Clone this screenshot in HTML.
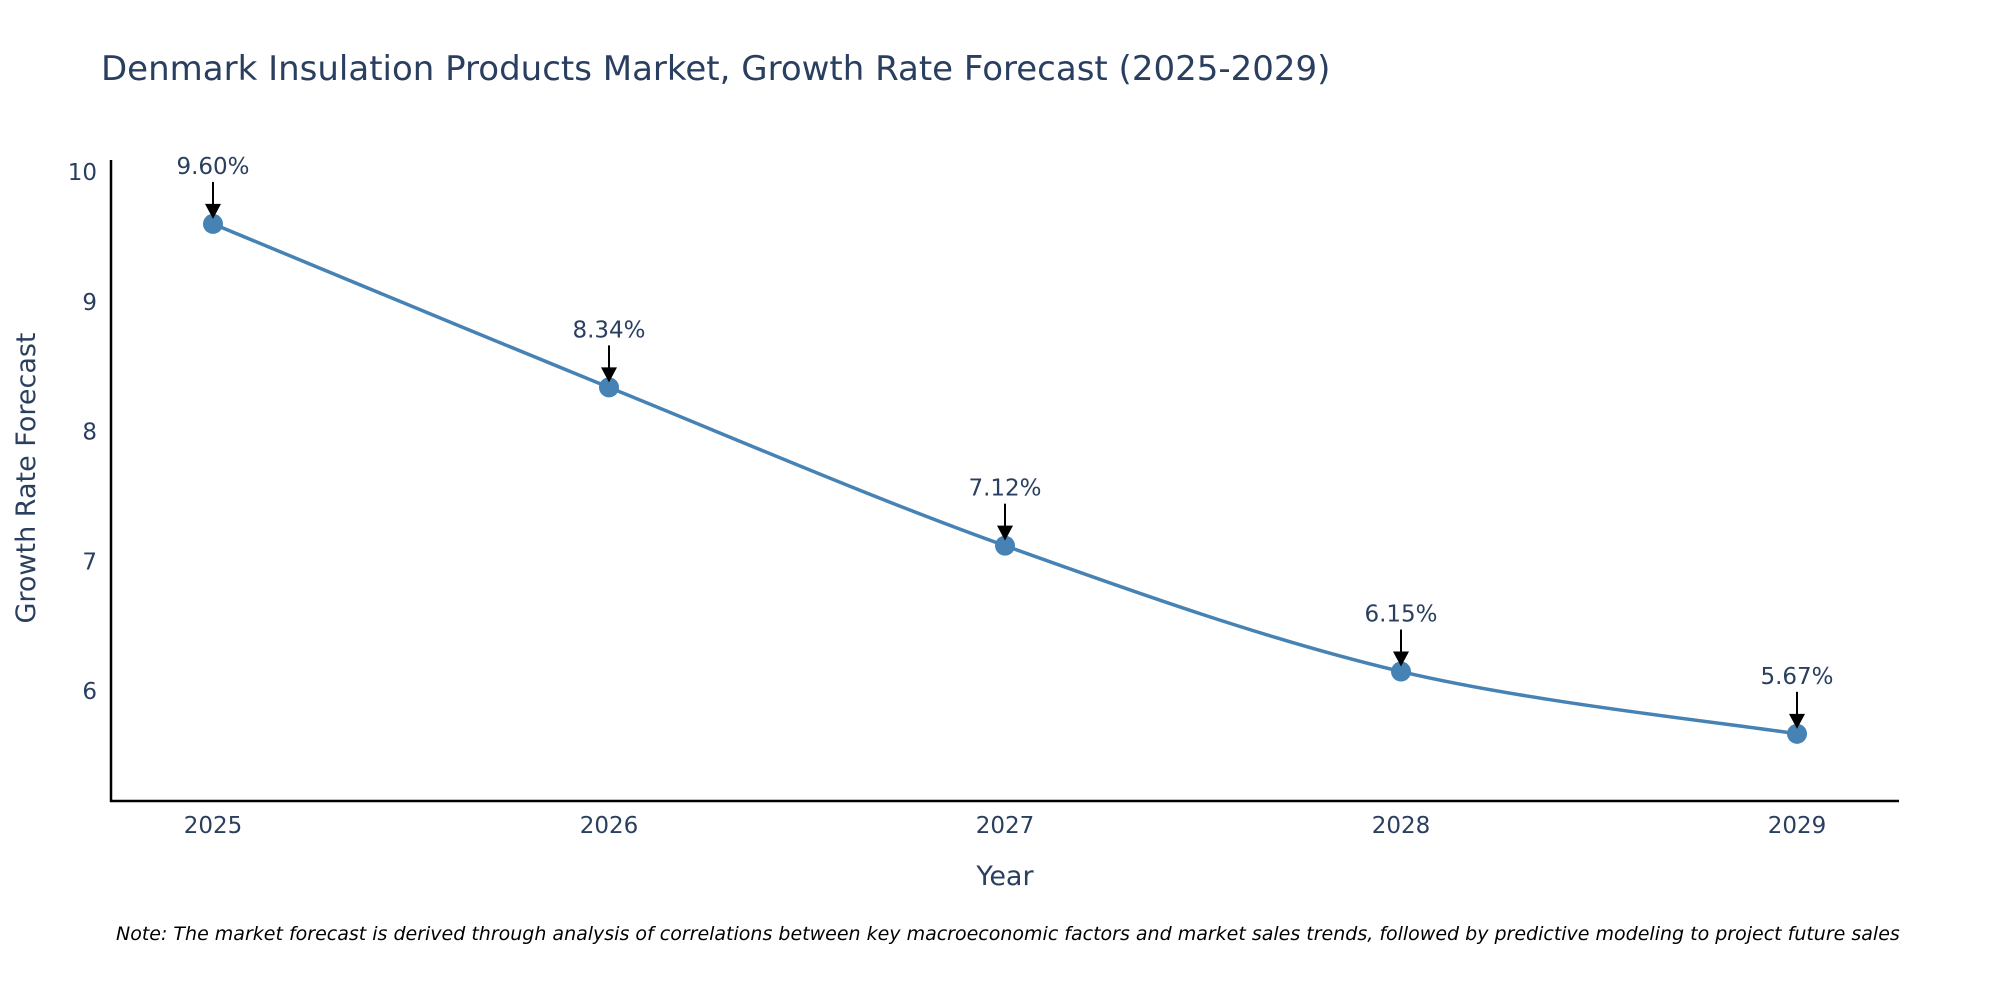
<!DOCTYPE html>
<html><head><meta charset="utf-8"><style>
body{margin:0;background:#fff;width:2000px;height:1000px;overflow:hidden;font-family:"DejaVu Sans",sans-serif}
</style></head><body>
<svg width="2000" height="1000" xmlns="http://www.w3.org/2000/svg" style="font-family:'DejaVu Sans','Liberation Sans',sans-serif">
<text x="101" y="80" font-size="34" fill="#2a3f5f">Denmark Insulation Products Market, Growth Rate Forecast (2025-2029)</text>
<g id="yticks"></g><g id="xticks"></g>
<line x1="111" y1="160" x2="111" y2="802" stroke="#000" stroke-width="2.5"/>
<line x1="110" y1="801" x2="1899" y2="801" stroke="#000" stroke-width="2.5"/>
<path id="line" fill="none" stroke="#4682b4" stroke-width="3.5"/>
<g id="marks"></g>
<text transform="translate(35,478) rotate(-90)" text-anchor="middle" font-size="27" fill="#2a3f5f">Growth Rate Forecast</text>
<text x="1005" y="885" text-anchor="middle" font-size="27" fill="#2a3f5f">Year</text>
<text x="116" y="940" font-size="19" font-style="italic" fill="#000">Note: The market forecast is derived through analysis of correlations between key macroeconomic factors and market sales trends, followed by predictive modeling to project future sales</text>
</svg>
<script>
const years=[2025,2026,2027,2028,2029];
const rates=[9.60,8.34,7.12,6.15,5.67];
const labels=['9.60%','8.34%','7.12%','6.15%','5.67%'];
const yTicks=[6,7,8,9,10];
const NS='http://www.w3.org/2000/svg';
const x=v=>213+(v-2025)*396;
const y=v=>691-(v-6)*129.75;
function mk(t,a,p){const e=document.createElementNS(NS,t);for(const k in a)e.setAttribute(k,a[k]);p.appendChild(e);return e;}
const yt=document.getElementById('yticks');
yTicks.forEach(v=>{const t=mk('text',{x:97,y:y(v)+8,'text-anchor':'end','font-size':23,fill:'#2a3f5f'},yt);


t.textContent=v;});
const xt=document.getElementById('xticks');
years.forEach(v=>{const t=mk('text',{x:x(v),y:833,'text-anchor':'middle','font-size':23,fill:'#2a3f5f'},xt);


t.textContent=v;});
const P=years.map((v,i)=>[x(v),y(rates[i])]);
let d='M'+P[0][0]+','+P[0][1];
for(let i=0;i<P.length-1;i++){const p0=P[i-1]||P[i],p1=P[i],p2=P[i+1],p3=P[i+2]||P[i+1];const s=1/3;
d+=` C${p1[0]+(p2[0]-p0[0])*s/2},${p1[1]+(p2[1]-p0[1])*s/2} ${p2[0]-(p3[0]-p1[0])*s/2},${p2[1]-(p3[1]-p1[1])*s/2} ${p2[0]},${p2[1]}`;}
document.getElementById('line').setAttribute('d',d);
const g=document.getElementById('marks');
P.forEach((p,i)=>{
const c=mk('circle',{cx:p[0],cy:p[1],r:10,fill:'#4682b4'},g);


const l=mk('line',{x1:p[0],y1:p[1]-42,x2:p[0],y2:p[1]-16,stroke:'#000','stroke-width':2},g);


const h=mk('polygon',{points:`${p[0]-8},${p[1]-20} ${p[0]+8},${p[1]-20} ${p[0]},${p[1]-5}`,fill:'#000'},g);


const t=mk('text',{x:p[0],y:p[1]-50,'text-anchor':'middle','font-size':23,fill:'#2a3f5f'},g);


t.textContent=labels[i];});
</script>
</body></html>
